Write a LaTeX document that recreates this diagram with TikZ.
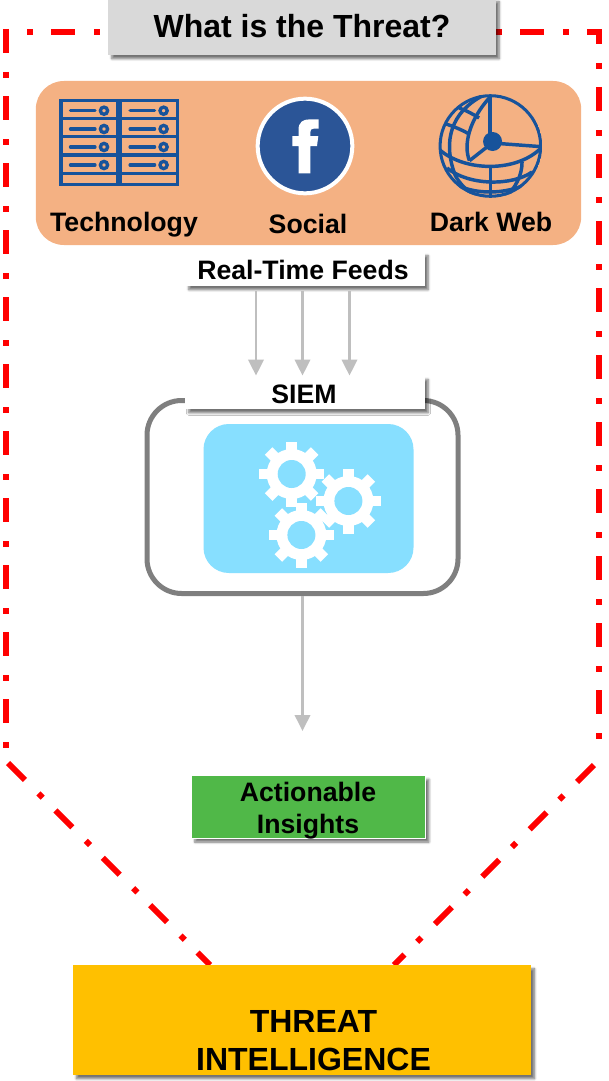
\documentclass[tikz,border=0pt]{standalone}
\usepackage{fontspec}
\setmainfont{Liberation Sans}
\usepackage{tikz}
\usetikzlibrary{arrows.meta,shadows.blur}
\definecolor{threatred}{HTML}{FF0000}
\definecolor{iconblue}{HTML}{17539B}
\definecolor{fbblue}{HTML}{2B5597}
\definecolor{panelorange}{HTML}{F4B183}
\definecolor{siemblue}{HTML}{87DFFF}
\definecolor{arrowgrey}{HTML}{BFBFBF}
\definecolor{framegrey}{HTML}{7F7F7F}
\definecolor{titlegrey}{HTML}{D9D9D9}
\definecolor{insightgreen}{HTML}{50B848}
\definecolor{threatyellow}{HTML}{FFC000}
\tikzset{
  boxshadow/.style={blur shadow={shadow xshift=2.6pt,shadow yshift=-2.8pt,shadow blur radius=1.8pt,shadow blur steps=6,shadow opacity=55}},
  redline/.style={draw=threatred, line width=4.4pt, dash pattern=on 18pt off 14.25pt on 4.5pt off 13.5pt},
  feedarrow/.style={draw=arrowgrey, line width=1.9pt, -{Triangle[length=12pt,width=11.5pt]}},
  boldtext/.style={font=\fontsize{20pt}{24pt}\selectfont\bfseries, align=center, inner sep=0pt},
  bigtext/.style={font=\fontsize{24pt}{28.5pt}\selectfont\bfseries, align=center, inner sep=0pt},
  whitebox/.style={fill=white, boxshadow, minimum width=179.5pt, inner sep=0pt},
  rack/.style={draw=iconblue, line width=2.5pt},
  globeline/.style={draw=iconblue, line width=2.6pt},
}
\begin{document}
\begin{tikzpicture}[x=0.75pt,y=-0.75pt]
  \useasboundingbox (0,0) rectangle (608,1081);

  % red outline
  \coordinate (topleft) at (27,32);
  \coordinate (topright) at (599,32);
  \coordinate (rightend) at (599,752);
  \coordinate (rightstart) at (594,765);
  \coordinate (bottomright) at (394,965);
  \coordinate (leftstart) at (6,29);
  \coordinate (leftend) at (6,748);
  \coordinate (diagstart) at (8,763);
  \coordinate (bottomleft) at (210,965);
  \draw[redline, dash phase=32.25pt] (topleft) -- (topright) -- (rightend);
  \draw[redline] (rightstart) -- (bottomright);
  \draw[redline] (leftstart) -- (leftend);
  \draw[redline] (diagstart) -- (bottomleft);

  % title
  \node[fill=titlegrey, boxshadow, minimum width=290.5pt, minimum height=42.75pt, inner sep=0pt] (title) at (302,26.5) {};
  \node[bigtext] (titletext) at (302,26) {What is the Threat?};

  % sources panel
  \node[fill=panelorange, rounded corners=21pt, minimum width=409pt, minimum height=123pt, inner sep=0pt] (panel) at (308.5,163) {};
  \node[boldtext] (technology) at (124,225) {Technology};
  \node[boldtext] (social) at (308,224) {Social};
  \node[boldtext] (darkweb) at (491,222) {Dark Web};

  % server racks
  \foreach \rx in {61,120.6} {
    \draw[rack] (\rx,100.3) rectangle (\rx+57,184.7);
    \foreach \ry in {118.3,136.7,155,173.3}
      \draw[rack] (\rx,\ry) -- (\rx+57,\ry);
    \foreach \ry in {110.7,129,147,165} {
      \draw[rack, line cap=round] (\rx+9.5,\ry) -- (\rx+34,\ry);
      \draw[rack] (\rx+43,\ry) circle (3.6);
    }
  }

  % facebook
  \node[circle, fill=fbblue, draw=white, line width=3pt, minimum size=71pt, inner sep=0pt] (facebook) at (305,146) {};
  \begin{scope}[xshift=-1.5pt]
  \fill[white] (300.5,173.3) -- (300.5,146) -- (294.4,146) -- (294.4,136) -- (300.5,136)
    -- (300.5,130) .. controls (300.5,122) and (305,119.3) .. (312,119.3) -- (320.6,119.3) -- (320.6,128.5)
    -- (316,128.5) .. controls (313,128.5) and (312.4,130) .. (312.4,132) -- (312.4,136) -- (320.3,136)
    -- (319,146) -- (312.4,146) -- (312.4,173.3) -- cycle;
  \end{scope}

  % globe
  \begin{scope}[xshift=-2.2pt]
    \clip (493.3,146) circle (51.8);
    \draw[globeline] (493,96) -- (493,141);
    \draw[globeline] (495,143) -- (542,146.5);
    \draw[globeline] (495,143) -- (472.4,160.7);
    \draw[globeline] (493,97) .. controls (472,120) and (466,145) .. (472.4,160.7);
    \draw[globeline] (485,96) .. controls (455,112) and (445,140) .. (458,175) .. controls (463,185) and (472,192) .. (478,196);
    \draw[globeline] (444,151) .. controls (470,172) and (520,172) .. (544,148);
    \draw[globeline] (450,168) .. controls (472,186) and (515,186) .. (535,172);
    \draw[globeline] (462,186) .. controls (480,194) and (505,194) .. (525,186);
    \draw[globeline] (449,124) .. controls (458,127) and (465,130) .. (472,134);
    \draw[globeline] (462,108) .. controls (468,110) and (476,114) .. (482,118);
    \draw[globeline] (493.5,166) -- (493.5,198);
    \draw[globeline] (525,162) .. controls (525,176) and (518,188) .. (508,198);
    \draw[globeline] (493.3,146) circle (50.5);
    \fill[iconblue] (495.5,141.5) circle (9.5);
  \end{scope}

  % real-time feeds and siem
  \node[draw=framegrey, line width=3.75pt, rounded corners=26pt, fill=white, minimum width=233.25pt, minimum height=144.75pt, inner sep=0pt] (siemframe) at (302.5,497) {};
  \node[whitebox, minimum height=25.5pt] (feeds) at (305,269) {};
  \node[boldtext] (feedstext) at (303,270) {Real-Time Feeds};
  \node[whitebox, minimum height=25pt] (siem) at (305,392.5) {};
  \node[boldtext] (siemtext) at (304,394) {SIEM};
  \foreach \dx in {-49,-2.5,44.5}
    \draw[feedarrow] ([xshift=\dx*0.75pt,yshift=-3.75pt]feeds.south) -- ([xshift=\dx*0.75pt]siem.north);

  % gears
  \node[fill=siemblue, rounded corners=19pt, minimum width=157.5pt, minimum height=111.75pt, inner sep=0pt] (engine) at (308.5,498.5) {};
  \foreach \gx/\gy in {291.7/474,348.4/501,301.4/535} {
    \fill[white] (\gx,\gy) circle (25);
    \foreach \ga in {0,45,...,315}
      \draw[white, line width=8pt] (\gx,\gy) ++(\ga:20) -- ++(\ga:12.5);
    \fill[siemblue] (\gx,\gy) circle (14);
  }

  % insights
  \coordinate (insighttip) at (302.5,731);
  \draw[feedarrow] (siemframe.south) -- (insighttip);
  \node[fill=insightgreen, draw=white, line width=0.9pt, boxshadow, minimum width=175.5pt, minimum height=47pt, inner sep=0pt] (insights) at (308.5,807) {};
  \node[boldtext] (insightstext) at (308,811) {Actionable\\Insights};

  % threat intelligence
  \node[fill=threatyellow, boxshadow, minimum width=343.5pt, minimum height=82.5pt, inner sep=0pt] (threat) at (302,1020) {};
  \node[bigtext] (threattext) at (313.5,1041) {THREAT\\INTELLIGENCE};
\end{tikzpicture}
\end{document}
